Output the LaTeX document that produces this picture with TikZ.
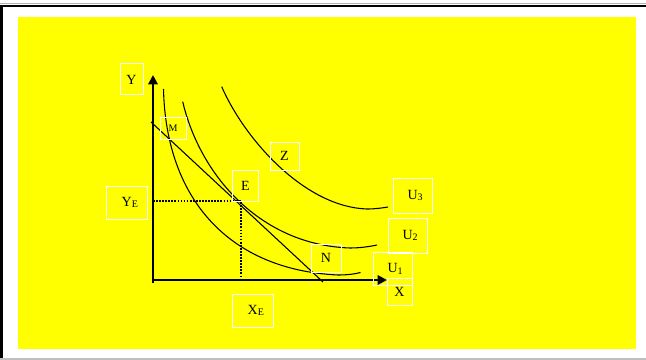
\documentclass[tikz,border=0pt]{standalone}
\usepackage{fontspec}
\setmainfont{Liberation Serif}
\usepackage{xcolor}
\usetikzlibrary{arrows.meta}

\definecolor{bgyellow}{RGB}{255,255,0}
\newcommand{\lowsub}[1]{\raisebox{-1.2pt}{\fontsize{7.5}{9}\selectfont #1}}

\tikzset{
  lbl/.style={draw=white, line width=0.75pt, inner sep=0pt, font=\fontsize{10.5}{12}\selectfont},
  lblsize/.style 2 args={minimum width=#1*0.75pt, minimum height=#2*0.75pt},
  curve/.style={line width=0.8pt},
  axis/.style={line width=1.6pt, -{Triangle[length=7pt,width=7pt]}},
  guide/.style={densely dotted, line width=1.3pt}
}

\begin{document}
\begin{tikzpicture}[x=0.75pt, y=-0.75pt]
  \useasboundingbox (0,0) rectangle (646,360);

  % Frame and background
  \fill[bgyellow] (18,17) rectangle (636,349);
  \draw[gray!60, line width=0.75pt] (0,3.5) -- (646,3.5);
  \draw[line width=1.5pt] (0,5.6) -- (646,5.6);
  \draw[line width=2pt] (1.5,5) -- (1.5,360);
  \draw[gray!50, line width=1pt] (0,359) -- (646,359);

  % Axes
  \coordinate (O) at (152,280);
  \coordinate (Ybase) at (153,283);
  \coordinate (Ytip) at (153,75);
  \coordinate (Xtip) at (387,280);
  \draw[axis] (Ybase) -- (Ytip);
  \draw[axis] (O) -- (Xtip);

  % Indifference curves
  \draw[curve] (163.5,89) .. controls (166,200) and (230,270) .. (338,275)
    .. controls (347,275) and (355,274) .. (360.5,272.5);
  \draw[curve] (182.7,101.7) .. controls (200,175) and (260,245) .. (350,248)
    .. controls (360,248) and (370,246.5) .. (377,245);
  \draw[curve] (221.7,86.7) .. controls (245,140) and (305,207) .. (367,209)
    .. controls (375,209) and (382,208) .. (388,207);

  % Budget line
  \coordinate (Btop) at (151,122);
  \coordinate (Bbot) at (323,282);
  \draw[curve] (Btop) -- (Bbot);

  % Equilibrium
  \coordinate (Ept) at (241,201);
  \coordinate (YEpt) at (153,201);
  \coordinate (XEpt) at (241,280);
  \draw[guide] (YEpt) -- (Ept) -- (XEpt);

  % Labels
  \node[lbl, lblsize={23}{31}] (ylab) at (131.5,79.5) {Y};
  \node[lbl, lblsize={26}{22}, font=\fontsize{7.5}{9}\selectfont] (mlab) at (173,128) {M};
  \node[lbl, lblsize={29}{28}] (zlab) at (284.5,156) {Z};
  \node[lbl, lblsize={26}{31}] (elab) at (245.5,185.5) {E};
  \node[lbl, lblsize={41}{33}] (yelab) at (126.5,202.5) {\hspace*{5pt}Y\lowsub{E}};
  \node[lbl, lblsize={39}{35}] (uthree) at (412.5,195.5) {\hspace*{4pt}U\lowsub{3}};
  \node[lbl, lblsize={39}{35}] (utwo) at (407.5,235.5) {\hspace*{4pt}U\lowsub{2}};
  \node[lbl, lblsize={30}{28}] (nlab) at (326,258) {N};
  \node[lbl, lblsize={39}{33}] (uone) at (392.5,269) {\hspace*{4pt}U\lowsub{1}};
  \node[lbl, lblsize={25}{27}] (xlab) at (399.5,291.5) {X};
  \node[lbl, lblsize={41}{33}] (xelab) at (252.5,310.5) {\hspace*{5pt}X\lowsub{E}};
\end{tikzpicture}
\end{document}
